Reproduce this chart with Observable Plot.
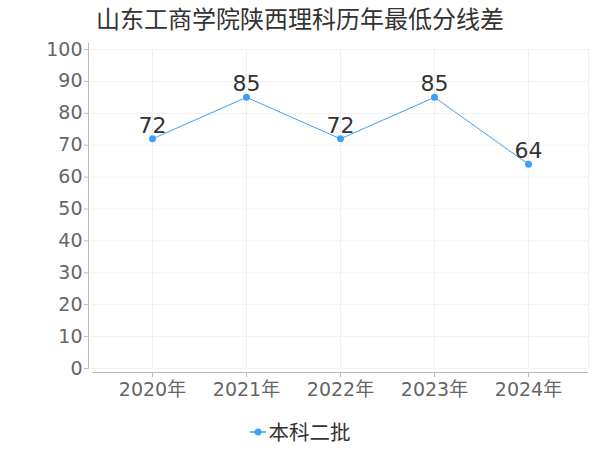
<!DOCTYPE html>
<html>
<head>
<meta charset="utf-8">
<script src="https://cdn.jsdelivr.net/npm/d3@7"></script>
<script src="https://cdn.jsdelivr.net/npm/@observablehq/plot@0.6"></script>
<style>
  body { margin: 0; background: #fff; font-family: "DejaVu Sans", "Noto Sans CJK SC", sans-serif; }
  #wrap { width: 600px; height: 450px; position: relative; overflow: hidden; }
  #title { position: absolute; left: 96px; top: 1px; font-size: 24px; line-height: 34px; color: #333; white-space: nowrap; font-family: "Noto Sans CJK SC", sans-serif; }
  #chart { position: absolute; left: 0; top: 36px; }
  #legend { position: absolute; left: 0; width: 600px; top: 416px; text-align: center; font-size: 20.5px; color: #333; font-family: "Noto Sans CJK SC", sans-serif; }
  #legend svg { vertical-align: middle; margin-right: 3px; position: relative; top: -2px; }
</style>
</head>
<body>
<div id="wrap">
  <div id="title"></div>
  <div id="chart"></div>
  <div id="legend"></div>
</div>
<script>
const title = "山东工商学院陕西理科历年最低分线差";
const years = ["2020年", "2021年", "2022年", "2023年", "2024年"];
const values = [72, 85, 72, 85, 64];
const seriesName = "本科二批";
const yTicks = [0, 10, 20, 30, 40, 50, 60, 70, 80, 90, 100];
const lineColor = "#3ea0f5";

const data = years.map((year, i) => ({year, value: values[i]}));

document.getElementById("title").textContent = title;

const plot = Plot.plot({
  width: 600,
  height: 374,
  marginTop: 13,
  marginLeft: 88,
  marginRight: 12,
  marginBottom: 42,
  style: {fontFamily: '"DejaVu Sans", "Noto Sans CJK SC", sans-serif', fontSize: "19px", color: "#666", background: "transparent"},
  x: {type: "point", domain: years, padding: 0.62, insetLeft: 4},
  y: {domain: [0, 100]},
  marks: [
    Plot.ruleY(yTicks, {stroke: "#f0f0f0", strokeWidth: 1, insetLeft: 2}),
    Plot.ruleX(years, {stroke: "#f0f0f0", strokeWidth: 1}),
    Plot.frame({anchor: "right", stroke: "#f0f0f0"}),
    Plot.frame({anchor: "left", stroke: "#bbbbbb", insetTop: -6}),
    Plot.ruleY([0], {stroke: "#bbbbbb", dy: 4, insetLeft: 4}),
    Plot.axisY({ticks: yTicks, tickSize: 4, tickPadding: 2, stroke: "#bbbbbb", fill: "#666", fontSize: 19, label: null}),
    Plot.axisX({tickSize: 5, tickPadding: 5, stroke: "#bbbbbb", fill: "#666", fontSize: 19, label: null, dy: 4}),
    Plot.line(data, {x: "year", y: "value", stroke: lineColor, strokeWidth: 1}),
    Plot.dot(data, {x: "year", y: "value", fill: lineColor, r: 3.5}),
    Plot.text(data, {x: "year", y: "value", text: d => String(d.value), dy: -13, fontSize: 22, fill: "#333"})
  ]
});
document.getElementById("chart").appendChild(plot);

const legend = document.getElementById("legend");
const ns = "http://www.w3.org/2000/svg";
const sw = document.createElementNS(ns, "svg");
sw.setAttribute("width", 16);
sw.setAttribute("height", 10);
const ln = document.createElementNS(ns, "line");
ln.setAttribute("x1", 0); ln.setAttribute("x2", 16); ln.setAttribute("y1", 5); ln.setAttribute("y2", 5);
ln.setAttribute("stroke", lineColor); ln.setAttribute("stroke-width", 1.5);
const c = document.createElementNS(ns, "circle");
c.setAttribute("cx", 8); c.setAttribute("cy", 5); c.setAttribute("r", 3.5); c.setAttribute("fill", lineColor);
sw.appendChild(ln); sw.appendChild(c);
legend.appendChild(sw);
legend.appendChild(document.createTextNode(seriesName));
</script>
</body>
</html>
